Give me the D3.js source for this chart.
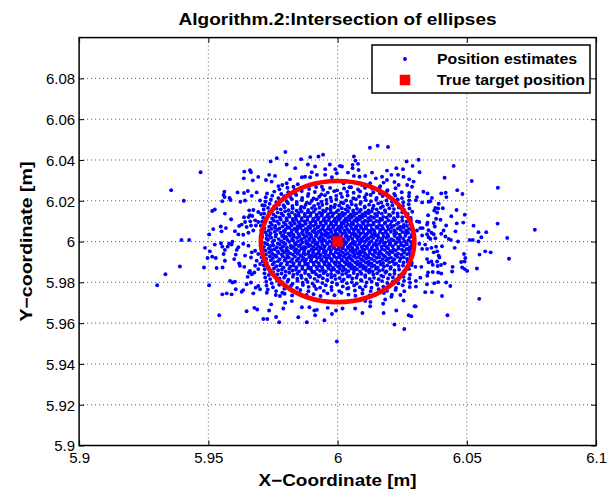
<!DOCTYPE html>
<html><head><meta charset="utf-8">
<script src="https://cdn.jsdelivr.net/npm/d3@7"></script>
<style>
body{margin:0;background:#fff}
svg{display:block}
text{font-family:"Liberation Sans",Arial,Helvetica,sans-serif;fill:#000}
</style>
</head><body>
<svg id="chart" width="610" height="493"></svg>
<script>
// ---------------- data ----------------
const chartTitle = "Algorithm.2:Intersection of ellipses";
const xAxisLabel = "X\u2212Coordinate [m]";
const yAxisLabel = "Y\u2212coordinate [m]";
const xLimits = [5.9, 6.1];
const yLimits = [5.9, 6.1];
const xTickValues = [5.9, 5.95, 6, 6.05, 6.1];
const yTickValues = [5.9, 5.92, 5.94, 5.96, 5.98, 6, 6.02, 6.04, 6.06, 6.08];
const legendLabels = ["Position estimates", "True target position"];
const trueTargetPosition = [6, 6];
const ellipseRadii = [0.0297, 0.0297];

// position-estimate errors (x, y) in millimetres relative to the true target position
// sparse estimates outside the dense core
const outerErrorsMm = [
[-53,34],[-64.4,25.2],[-59.5,20],[-36.1,34.3],[-33.9,35],[-33.5,34],[-36.3,31],[-32.8,30],[-30.7,31.7],[-43.8,24.4],[-44.1,22.8],[-43.7,21.8],[-38.7,24.1],[-36.2,23.8],[-34.7,24.8],[-33.2,22.4],[-31.3,24.1],[-41.8,21.4],[-41.4,20.4],[-44.6,19.8],[-37.6,19.5],[-35.8,20.1],[-30,20.1],[-29.1,17.8],[-48.5,15],[-47.5,15.7],[-43.6,13.7],[-34.2,15.3],[-32.6,15.5],[-30.7,14.5],[-29.6,13.5],[-36.2,11.9],[-34.5,12],[-33.9,12.9],[-33,12.5],[-41.2,10.9],[-35.8,9.6],[-33.8,9.9],[-31.9,10.4],[-30.7,9.6],[-37.1,8.3],[-38.1,7.6],[-35.2,7.1],[-33.5,7.9],[-31.6,7.9],[-45.2,7.4],[-43.2,6.6],[-48.1,6.1],[-44.9,5],[-39.7,5.1],[-38.4,3.5],[-36.5,3.3],[-34.5,4.3],[-32.6,5.4],[-49.7,3.5],[-60.4,0.8],[-57.4,0.8],
[-51.3,-3.1],[-49.4,-4.8],[-50.3,-8.1],[-48.5,-7.4],[-47.1,-8.1],[-47.5,-1.5],[-45.1,-0.8],[-44.6,-2.5],[-43.6,-4.1],[-44.1,-6.1],[-42,-1.1],[-41,-1.5],[-42.5,-2.5],[-43.6,-9.4],[-39.4,-6.4],[-40,-8.6],[-38.1,-10.7],[-37.8,-11.9],[-36.1,-12.4],[-46.8,-13],[-44.5,-12.7],[-51.7,-12.7],[-61,-12.2],[-66.6,-16],[-69.8,-21.4],[-49.7,-21.4],[-41.6,-19.3],[-40.7,-20.1],[-39.7,-19.7],[-39.4,-23.4],[-41,-25.9],[-42.9,-25.4],[-44.6,-25.9],[-37.1,-24.6],[-36.5,-23.8],[-35.2,-20.9],[-33.5,-20.1],[-34.8,-17.3],[-33.2,-16],[-33.9,-14.4],[-32.2,-15.2],[-32.6,-25.4],[-30.7,-21.8],[-31.7,-22.6],[-30,-23.4],[-35.2,-34.2],[-32.2,-32.5],[-31.1,-33.3],[-45.8,-36.1],[-28.7,-38],[-38.4,-2.8],[-36.5,-1.1],[-34.5,-2],[-33.2,-5.3],[-31.9,-4.5],[-30.7,-6.1],[-35.8,-6.9],[-33.5,-7.8],[-39,-4.1],[-40.7,-0.1],[-31.3,-9.4],[-30,-11],[-31.9,-11.9],[-30.7,-13.5],[-34.3,-15.2],
[44.9,37.1],[31.7,34],[41.4,31.3],[51.9,29.7],[62,26.4],[46.3,25.2],[40.1,23.6],[41.8,23.9],[42.1,21.8],[48.3,23.3],[33.2,24.4],[34.8,23.6],[36.5,21.4],[35.9,19.8],[35.2,19.5],[30.7,21.8],[30.3,20.3],[32.7,19.2],[39.1,18.5],[37.8,16.5],[38.9,16.2],[40.7,16.3],[37.4,15.2],[38.5,14.2],[46,15.5],[49.2,13.2],[35,12.9],[44,12.4],[38.1,11.2],[39.8,10.7],[30.7,9.9],[31.6,9.6],[34.8,9.3],[37.2,9.1],[34.6,8.3],[37.6,7.4],[42,7.9],[46.1,8.9],[48.6,9.3],[52.6,7.8],[61.9,8.8],[32,6.6],[32.9,6.6],[30.7,5.4],[35.2,5.6],[36.3,4.3],[37.2,3.6],[34.6,3.6],[32.7,3],[35.2,2.1],[35.9,1.3],[37.8,1.6],[40.1,3.8],[41,5.4],[41.7,2.5],[43,1.3],[43.8,0.8],[45.6,5],[54.5,4.6],[57.5,4.6],[55.6,2.1],[65.6,1.8],[76.3,5.8],[51.1,0.8],[52.3,0.8],
[54.5,0],[46.6,0],[54.9,-6.4],[57.1,-4.8],[59.2,-5.3],[66.3,-8.4],[45.3,-3.1],[40.4,-2.3],[38.1,-2.5],[37.2,-5.3],[38.5,-4.8],[39.1,-6.9],[39.4,-7.8],[36.3,-3.1],[34.6,-3.6],[32.7,-3.6],[33.9,-1.5],[31.6,-1.1],[48.9,-6.1],[49.4,-8.1],[47.8,-10],[49.1,-9.8],[34.6,-8.6],[35.2,-10.2],[36.3,-9.8],[36.8,-11.4],[38.5,-9.8],[38.7,-12],[40,-11.5],[41.4,-10.7],[44.5,-12.4],[44.3,-14.7],[48.2,-12.7],[49.2,-13.5],[50.1,-14.4],[53.9,-13.2],[32.4,-12.4],[30.1,-12.4],[35,-15.2],[36.8,-14.9],[38.9,-15.2],[40.1,-15.7],[34.7,-16.8],[32,-17.7],[30.3,-19.3],[30.3,-22.1],[34.6,-20.9],[37.4,-20.4],[38.9,-19.9],[42,-20.1],[43.6,-21.8],[33.9,-24.8],[36.5,-24.8],[40.4,-26.7],[54.8,-28.1],[30.2,-31.8],[42.5,-36.1],
[12.5,46],[15.5,47],[19.5,46.4],[-20.2,43.9],[-23.5,40.9],[-25.9,39.3],[-14.1,40.4],[-10.6,41.4],[-7.4,41.7],[-5.6,42.6],[6.3,41.7],[6.9,39.7],[26.7,39.3],[31.3,40.1],[-19.7,37.8],[-11.5,37.8],[-3,37.8],[0.9,37.1],[1.7,36.8],[5.8,37.6],[7.9,38.1],[-4.8,35.5],[-0.9,35.5],[8.1,35.1],[5.8,36],[-16.4,36],[-8.7,36.8],[-10,34],[-8,32.7],[-12.6,31.8],[-13.8,31.5],[-10.6,31.5],[-26.5,32.7],[-24.2,32.2],[-27.7,30.2],[-25.5,29.4],[-22.9,27.2],[-21.4,27.7],[-19.7,28.6],[-18.4,30.5],[-4.8,32.7],[-2.2,31.5],[-0.3,33.5],[4,33.8],[6.3,32.2],[8.5,31.8],[10.7,32.2],[13.3,33.8],[19.1,34.8],[22.7,36],[25.3,35.5],[29,37.1],[14.8,31],[17.8,28.9],[19.1,30.2],[20.8,32.7],[23.4,32.7],[25.5,31.8],[27.7,30.5],[29.4,29.4],[22,29.2],[23.6,27.7],[26.9,27.7],[28.8,26.9],[17.2,31.8],[-7.4,28.6],[-6.1,26.9],[-4.2,29.4],[2.3,28.6],[4.6,26.6],[6.8,28.9],[9.4,27.7],[12.6,28.6],[16.5,27.2],[-17.1,26.9],[-15.4,28.1],
[-0.3,-49],[22,-40.7],[25.8,-42.9],[-5.1,-38.6],[-11.9,-39.6],[-22.6,-39.6],[-23.8,-37],[-27.2,-38],[-15.2,-37.1],[-8.7,-36.1],[-9,-33.8],[-2.2,-35.5],[-0.6,-33.8],[17.8,-35],[22.7,-33.8],[27.5,-36.1],[28.5,-36.6],[29.8,-31.7],[25.5,-28.9],[24.3,-26.2],[-26.5,-33.8],[-25.7,-30.8],[-21,-32.8],[-20.3,-30],[-17.7,-29.2],[-21.4,-25.1],[-22.3,-26.7],[-23.9,-26.2],[-27.4,-25.1],[-13.8,-32.2],[-10.9,-32.2],[-8,-33.5],[-3.8,-32.5],[1.9,-32.8],[6.8,-32.8],[9.6,-35],[12.6,-31.7],[12.7,-29.6],[17.6,-30.5],[18.4,-28.4],[20.8,-27.1],[10.7,-29.2]
];
// dense core of estimates around the true position
const coreErrorsMm = [
[-29.6,0.4],[-28.1,-0.7],[-26.9,0.9],[-25.2,-0.2],[-24.6,0.6],[-23.1,-0.9],[-21.8,0.2],[-20.9,-0.5],[-19.4,0.8],[-18.7,-0.1],[-17.2,0.5],[-16.5,-0.8],[-15.3,0.1],[-14.1,0.9],[-13.6,-0.4],[-12.2,0.3],[-11.5,-0.9],[-10.8,0.7],[-9.6,-0.3],[-8.9,0.5],[-7.7,-0.6],[-6.9,0.9],[-6.1,-0.2],[-4.8,0.4],[-4.0,-0.8],[-3.1,0.2],[-2.2,-0.5],[-1.4,0.8],[-0.5,-0.1],[0.9,0.6],[1.6,-0.7],[2.5,0.3],[3.4,-0.4],[4.2,0.9],[5.3,-0.9],[6.0,0.1],[6.8,-0.3],[7.9,0.7],[8.7,-0.6],[9.5,0.4],[10.6,-0.2],[11.2,0.8],[12.4,-0.5],[13.1,0.2],[14.5,-0.8],[15.2,0.6],[16.6,-0.1],[17.3,0.9],[18.5,-0.4],[19.8,0.3],[20.4,-0.7],[21.7,0.5],[22.9,-0.3],[23.8,0.8],[24.5,-0.6],[25.9,0.2],[26.6,-0.9],[27.4,0.6],[28.3,-0.2],[17.9,-0.8],[-5.4,0.7],
[-29.1,2.3],[-27.5,1.4],[-26.3,2.8],[-25.7,1.9],[-24.0,2.5],[-22.8,1.2],[-21.5,2.7],[-20.6,1.6],[-19.9,2.2],[-18.4,2.9],[-17.6,1.3],[-16.9,2.4],[-15.7,1.8],[-14.8,2.6],[-13.9,1.1],[-12.7,2.0],[-11.9,2.8],[-11.0,1.5],[-10.1,2.3],[-9.2,1.2],[-8.4,2.7],[-7.3,1.7],[-6.5,2.4],[-5.6,1.3],[-4.6,2.9],[-3.7,1.9],[-2.8,2.5],[-1.9,1.4],[-1.0,2.2],[-0.2,2.9],[0.6,1.6],[1.4,2.4],[2.3,1.2],[3.1,2.7],[3.9,1.8],[4.9,2.3],[5.7,1.4],[6.6,2.8],[7.5,1.9],[8.3,2.5],[9.2,1.1],[10.1,2.1],[11.0,2.8],[11.9,1.5],[12.9,2.4],[13.8,1.7],[14.7,2.9],[15.8,2.0],[16.9,1.3],[17.8,2.6],[18.9,1.8],[19.6,2.4],[20.8,1.2],[22.1,2.7],[23.2,1.6],[24.3,2.3],[25.4,1.4],[26.2,2.8],[27.8,1.9],[28.6,2.5],
[-29.8,-1.7],[-28.5,-2.6],[-27.2,-1.3],[-26.0,-2.2],[-24.9,-1.8],[-23.5,-2.8],[-22.3,-1.5],[-21.1,-2.4],[-20.2,-1.2],[-19.6,-2.9],[-18.1,-1.9],[-17.0,-2.5],[-16.1,-1.4],[-15.0,-2.2],[-14.3,-1.6],[-13.0,-2.7],[-12.1,-1.1],[-11.2,-2.3],[-10.5,-1.8],[-9.4,-2.6],[-8.5,-1.3],[-7.6,-2.1],[-6.8,-2.9],[-5.9,-1.5],[-5.0,-2.4],[-3.9,-1.2],[-3.0,-2.7],[-2.0,-1.8],[-1.2,-2.3],[-0.3,-1.4],[0.5,-2.8],[1.3,-1.6],[2.2,-2.2],[3.0,-1.1],[4.0,-2.5],[4.8,-1.7],[5.6,-2.9],[6.5,-1.4],[7.4,-2.1],[8.4,-1.2],[9.3,-2.6],[10.2,-1.9],[11.3,-2.4],[12.1,-1.3],[13.3,-2.8],[14.0,-1.6],[15.1,-2.2],[16.0,-1.1],[17.0,-2.5],[18.2,-1.8],[19.0,-2.7],[20.1,-1.5],[21.3,-2.3],[22.4,-1.2],[23.5,-2.6],[24.6,-1.7],[25.6,-2.2],[26.8,-1.4],[27.9,-2.8],[28.7,-1.9],
[-29.3,3.8],[-28.0,4.6],[-27.4,3.2],[-25.9,4.1],[-24.3,4.8],[-23.8,3.5],[-22.1,4.3],[-21.0,3.1],[-20.4,4.7],[-19.0,3.9],[-17.9,4.4],[-17.1,3.3],[-15.9,4.9],[-15.2,3.7],[-13.8,4.2],[-13.3,3.4],[-12.0,4.6],[-10.9,3.9],[-10.3,3.2],[-9.0,4.5],[-8.1,3.6],[-7.5,4.8],[-6.3,4.0],[-5.5,3.3],[-4.4,4.4],[-3.6,3.8],[-2.4,4.7],[-1.7,3.2],[-0.7,4.1],[0.1,3.5],[1.0,4.9],[1.8,3.9],[2.9,4.3],[3.5,3.1],[4.6,4.6],[5.5,3.7],[6.3,4.2],[7.1,3.4],[8.0,4.8],[8.9,3.8],[9.9,4.4],[10.8,3.3],[11.6,4.0],[12.7,4.7],[13.5,3.5],[14.4,4.3],[15.6,3.2],[16.4,4.6],[17.5,3.9],[18.7,4.4],[19.4,3.3],[20.6,4.8],[21.9,3.7],[22.7,4.2],[24.0,3.4],[25.2,4.6],[26.4,3.8],[27.3,4.3],[28.8,3.6],
[-29.0,-3.6],[-27.9,-4.5],[-26.6,-3.3],[-25.5,-4.2],[-24.4,-3.8],[-23.2,-4.8],[-22.0,-3.4],[-21.4,-4.4],[-19.8,-3.9],[-19.2,-4.7],[-18.0,-3.2],[-16.8,-4.1],[-16.0,-3.7],[-14.9,-4.6],[-14.0,-3.4],[-12.9,-4.3],[-12.3,-3.1],[-11.1,-4.8],[-10.0,-3.8],[-9.3,-4.2],[-8.2,-3.5],[-7.2,-4.6],[-6.4,-3.3],[-5.3,-4.0],[-4.5,-4.8],[-3.5,-3.6],[-2.6,-4.4],[-1.5,-3.2],[-0.6,-4.1],[0.4,-3.7],[1.2,-4.7],[2.0,-3.4],[3.2,-4.2],[4.1,-3.1],[4.9,-4.5],[5.8,-3.9],[6.9,-4.3],[7.7,-3.3],[8.6,-4.8],[9.6,-3.6],[10.4,-4.1],[11.4,-3.2],[12.3,-4.6],[13.0,-3.8],[14.2,-4.4],[15.3,-3.5],[16.3,-4.9],[17.2,-3.7],[18.3,-4.2],[19.5,-3.3],[20.3,-4.6],[21.6,-3.9],[22.5,-4.4],[23.6,-3.4],[24.9,-4.0],[25.8,-4.7],[26.7,-3.6],[27.7,-4.2],[28.5,-3.3],
[-29.5,5.6],[-28.3,6.5],[-26.7,5.3],[-25.6,6.2],[-24.2,6.8],[-23.3,5.7],[-22.5,6.4],[-20.8,5.2],[-20.0,6.1],[-18.6,6.7],[-17.7,5.5],[-16.7,6.3],[-15.6,5.9],[-14.4,6.8],[-13.5,5.4],[-12.4,6.2],[-11.6,5.7],[-10.6,6.6],[-9.7,5.1],[-8.8,6.0],[-7.8,6.9],[-6.6,5.6],[-5.7,6.4],[-4.9,5.3],[-3.8,6.2],[-2.9,5.8],[-1.8,6.7],[-0.9,5.4],[0.0,6.3],[0.8,5.9],[1.7,6.8],[2.7,5.5],[3.7,6.1],[4.4,5.2],[5.4,6.6],[6.2,5.7],[7.2,6.3],[8.2,5.4],[9.1,6.8],[10.0,5.9],[11.1,6.4],[12.0,5.3],[13.2,6.2],[14.1,5.6],[15.4,6.7],[16.5,5.8],[17.6,6.3],[18.6,5.2],[19.7,6.1],[20.9,6.8],[22.0,5.5],[23.3,6.4],[24.4,5.7],[25.5,6.9],[26.5,5.4],[27.6,6.2],[28.7,5.8],
[-29.2,-5.5],[-27.7,-6.4],[-26.4,-5.2],[-25.1,-6.1],[-24.0,-6.8],[-22.9,-5.6],[-21.6,-6.3],[-20.5,-5.3],[-19.5,-6.6],[-18.3,-5.8],[-17.3,-6.4],[-16.4,-5.1],[-15.4,-6.0],[-14.2,-6.7],[-13.1,-5.5],[-12.6,-6.3],[-11.4,-5.9],[-10.2,-6.8],[-9.5,-5.4],[-8.3,-6.2],[-7.4,-5.7],[-6.5,-6.6],[-5.4,-5.3],[-4.6,-6.1],[-3.4,-6.9],[-2.7,-5.6],[-1.6,-6.4],[-0.7,-5.2],[0.3,-6.0],[1.1,-6.7],[2.1,-5.5],[3.0,-6.3],[3.9,-5.8],[4.8,-6.8],[5.9,-5.4],[6.7,-6.2],[7.8,-5.7],[8.8,-6.5],[9.7,-5.1],[10.7,-6.0],[11.7,-6.8],[12.5,-5.6],[13.6,-6.4],[14.6,-5.3],[15.7,-6.1],[16.8,-5.8],[17.7,-6.7],[19.1,-5.5],[20.0,-6.3],[21.2,-5.2],[22.3,-6.6],[23.4,-5.9],[24.7,-6.4],[25.7,-5.4],[26.9,-6.2],[27.8,-5.7],[28.8,-6.8],
[-29.7,7.8],[-28.2,8.6],[-26.5,7.3],[-25.4,8.2],[-24.1,7.6],[-22.7,8.7],[-21.3,7.4],[-20.1,8.3],[-19.3,7.1],[-17.8,8.0],[-16.6,8.8],[-15.5,7.5],[-14.5,8.4],[-13.4,7.9],[-12.3,8.7],[-11.3,7.2],[-10.4,8.1],[-9.3,7.7],[-8.4,8.6],[-7.4,7.3],[-6.4,8.2],[-5.4,7.8],[-4.5,8.8],[-3.5,7.4],[-2.6,8.3],[-1.5,7.6],[-0.6,8.5],[0.4,7.2],[1.3,8.0],[2.3,8.8],[3.2,7.5],[4.1,8.3],[5.1,7.9],[6.1,8.6],[7.0,7.3],[7.9,8.1],[9.0,7.7],[10.0,8.7],[10.9,7.4],[11.8,8.2],[12.9,7.9],[13.9,8.5],[15.0,7.2],[16.1,8.1],[17.2,7.6],[18.3,8.8],[19.3,7.5],[20.5,8.3],[21.8,7.8],[23.0,8.6],[24.2,7.3],[25.6,8.1],[26.8,7.7],[28.1,8.4],
[-29.4,-7.7],[-27.6,-8.5],[-26.2,-7.2],[-25.0,-8.1],[-23.6,-7.5],[-22.4,-8.7],[-21.2,-7.3],[-20.0,-8.2],[-18.9,-7.8],[-17.5,-8.6],[-16.5,-7.4],[-15.2,-8.3],[-14.1,-7.1],[-13.2,-8.0],[-12.2,-8.8],[-11.0,-7.6],[-10.1,-8.4],[-9.1,-7.2],[-8.0,-8.1],[-7.1,-7.7],[-6.2,-8.7],[-5.2,-7.4],[-4.3,-8.2],[-3.2,-7.9],[-2.3,-8.6],[-1.3,-7.3],[-0.4,-8.1],[0.6,-7.6],[1.5,-8.8],[2.4,-7.4],[3.4,-8.3],[4.3,-7.8],[5.2,-8.5],[6.3,-7.2],[7.1,-8.0],[8.1,-7.6],[9.1,-8.7],[10.1,-7.3],[11.1,-8.2],[12.0,-7.8],[13.1,-8.5],[14.1,-7.1],[15.2,-8.0],[16.2,-7.6],[17.4,-8.6],[18.4,-7.4],[19.6,-8.3],[20.7,-7.9],[21.9,-8.7],[23.1,-7.5],[24.4,-8.2],[25.6,-7.7],[26.9,-8.5],[28.2,-7.3],
[-29.2,9.7],[-27.6,10.6],[-26.0,9.3],[-24.7,10.2],[-23.4,9.8],[-22.0,10.8],[-20.8,9.4],[-19.6,10.3],[-18.4,9.1],[-17.2,10.0],[-16.0,10.7],[-15.0,9.5],[-13.9,10.4],[-12.8,9.8],[-11.7,10.6],[-10.6,9.2],[-9.6,10.1],[-8.6,9.7],[-7.6,10.8],[-6.6,9.4],[-5.5,10.3],[-4.6,9.8],[-3.5,10.5],[-2.5,9.2],[-1.5,10.1],[-0.5,9.6],[0.5,10.7],[1.5,9.3],[2.5,10.2],[3.5,9.8],[4.5,10.6],[5.5,9.4],[6.5,10.3],[7.5,9.9],[8.6,10.8],[9.6,9.5],[10.6,10.2],[11.7,9.7],[12.8,10.5],[13.9,9.2],[15.0,10.1],[16.1,9.8],[17.2,10.7],[18.4,9.4],[19.6,10.3],[20.9,9.9],[22.2,10.6],[23.6,9.3],[25.0,10.2],[26.6,9.7],[28.3,10.5],
[-29.0,-9.6],[-27.4,-10.5],[-25.8,-9.2],[-24.5,-10.1],[-23.1,-9.7],[-21.8,-10.7],[-20.5,-9.3],[-19.4,-10.2],[-18.1,-9.8],[-17.0,-10.6],[-15.8,-9.4],[-14.7,-10.3],[-13.7,-9.1],[-12.6,-10.0],[-11.5,-10.8],[-10.4,-9.5],[-9.4,-10.4],[-8.3,-9.8],[-7.3,-10.6],[-6.3,-9.2],[-5.3,-10.1],[-4.3,-9.7],[-3.3,-10.8],[-2.3,-9.4],[-1.3,-10.3],[-0.3,-9.9],[0.7,-10.5],[1.7,-9.2],[2.7,-10.1],[3.7,-9.6],[4.7,-10.7],[5.7,-9.3],[6.8,-10.2],[7.8,-9.8],[8.8,-10.6],[9.9,-9.4],[10.9,-10.3],[12.0,-9.9],[13.1,-10.7],[14.2,-9.3],[15.3,-10.2],[16.4,-9.7],[17.6,-10.5],[18.8,-9.2],[20.0,-10.1],[21.3,-9.8],[22.6,-10.7],[24.0,-9.5],[25.5,-10.3],[27.1,-9.9],[28.7,-10.4],
[-28.8,11.7],[-27.0,12.5],[-25.3,11.3],[-23.9,12.2],[-22.4,11.8],[-21.1,12.8],[-19.8,11.4],[-18.6,12.3],[-17.4,11.1],[-16.2,12.0],[-15.0,12.7],[-13.9,11.5],[-12.7,12.4],[-11.6,11.9],[-10.5,12.6],[-9.4,11.2],[-8.3,12.1],[-7.3,11.7],[-6.2,12.8],[-5.2,11.4],[-4.1,12.3],[-3.1,11.8],[-2.0,12.5],[-1.0,11.2],[0.0,12.1],[1.1,11.6],[2.1,12.7],[3.2,11.3],[4.2,12.2],[5.3,11.8],[6.3,12.6],[7.4,11.4],[8.5,12.3],[9.6,11.9],[10.7,12.7],[11.8,11.5],[12.9,12.2],[14.1,11.7],[15.3,12.5],[16.5,11.2],[17.7,12.1],[19.0,11.8],[20.4,12.6],[21.8,11.4],[23.3,12.3],[25.0,11.9],[26.6,12.4],[28.3,11.6],
[-28.6,-11.6],[-26.8,-12.4],[-25.1,-11.2],[-23.7,-12.1],[-22.2,-11.7],[-20.9,-12.7],[-19.6,-11.3],[-18.3,-12.2],[-17.1,-11.8],[-15.9,-12.6],[-14.8,-11.4],[-13.6,-12.3],[-12.5,-11.1],[-11.4,-12.0],[-10.3,-12.8],[-9.2,-11.5],[-8.1,-12.4],[-7.1,-11.9],[-6.0,-12.6],[-5.0,-11.2],[-3.9,-12.1],[-2.9,-11.7],[-1.8,-12.8],[-0.8,-11.4],[0.2,-12.3],[1.3,-11.8],[2.3,-12.5],[3.4,-11.2],[4.4,-12.1],[5.5,-11.6],[6.6,-12.7],[7.6,-11.3],[8.7,-12.2],[9.8,-11.8],[10.9,-12.6],[12.0,-11.4],[13.2,-12.3],[14.3,-11.9],[15.5,-12.7],[16.7,-11.3],[17.9,-12.2],[19.2,-11.7],[20.6,-12.5],[22.0,-11.1],[23.6,-12.0],[25.3,-11.8],[27.0,-12.4],[28.6,-11.5],
[-28.4,13.7],[-26.5,14.5],[-24.8,13.3],[-23.2,14.2],[-21.7,13.8],[-20.3,14.8],[-18.9,13.4],[-17.6,14.3],[-16.4,13.1],[-15.1,14.0],[-13.9,14.7],[-12.7,13.5],[-11.5,14.4],[-10.4,13.9],[-9.2,14.6],[-8.1,13.2],[-7.0,14.1],[-5.9,13.7],[-4.8,14.8],[-3.7,13.4],[-2.6,14.3],[-1.5,13.8],[-0.4,14.5],[0.7,13.2],[1.8,14.1],[2.9,13.6],[4.0,14.7],[5.1,13.3],[6.2,14.2],[7.3,13.8],[8.4,14.6],[9.6,13.4],[10.8,14.3],[12.0,13.9],[13.2,14.7],[14.5,13.5],[15.8,14.2],[17.1,13.7],[18.5,14.5],[19.9,13.2],[21.5,14.1],[23.2,13.8],[25.0,14.4],[27.1,13.5],[28.9,14.6],
[-28.2,-13.6],[-26.3,-14.4],[-24.6,-13.2],[-23.0,-14.1],[-21.5,-13.7],[-20.1,-14.7],[-18.7,-13.3],[-17.4,-14.2],[-16.1,-13.8],[-14.9,-14.6],[-13.7,-13.4],[-12.5,-14.3],[-11.3,-13.1],[-10.2,-14.0],[-9.0,-14.8],[-7.9,-13.5],[-6.8,-14.4],[-5.7,-13.9],[-4.6,-14.6],[-3.5,-13.2],[-2.4,-14.1],[-1.3,-13.7],[-0.2,-14.8],[0.9,-13.4],[2.0,-14.3],[3.1,-13.8],[4.2,-14.5],[5.3,-13.2],[6.4,-14.1],[7.5,-13.6],[8.7,-14.7],[9.9,-13.3],[11.1,-14.2],[12.3,-13.8],[13.5,-14.6],[14.8,-13.4],[16.1,-14.3],[17.5,-13.9],[18.9,-14.7],[20.4,-13.3],[22.0,-14.2],[23.8,-13.7],[25.7,-14.5],[27.6,-13.4],
[-28.6,15.7],[-26.9,16.5],[-25.2,15.3],[-23.6,16.2],[-22.0,15.8],[-20.5,16.8],[-19.0,15.4],[-17.4,16.3],[-15.9,15.1],[-14.4,16.0],[-12.9,16.7],[-11.4,15.5],[-9.9,16.4],[-8.5,15.9],[-7.0,16.6],[-5.6,15.2],[-4.1,16.1],[-2.7,15.7],[-1.3,16.8],[0.2,15.4],[1.6,16.3],[3.1,15.8],[4.5,16.5],[6.0,15.2],[7.5,16.1],[9.0,15.6],[10.5,16.7],[12.0,15.3],[13.6,16.2],[15.1,15.8],[16.7,16.6],[18.3,15.4],[20.0,16.3],[21.8,15.9],[23.7,16.7],[25.7,15.5],[27.8,16.2],
[-28.3,-15.6],[-26.6,-16.4],[-24.9,-15.2],[-23.3,-16.1],[-21.7,-15.7],[-20.2,-16.7],[-18.7,-15.3],[-17.1,-16.2],[-15.6,-15.8],[-14.1,-16.6],[-12.6,-15.4],[-11.2,-16.3],[-9.7,-15.1],[-8.3,-16.0],[-6.8,-16.8],[-5.4,-15.5],[-3.9,-16.4],[-2.5,-15.9],[-1.1,-16.6],[0.4,-15.2],[1.8,-16.1],[3.3,-15.7],[4.7,-16.8],[6.2,-15.4],[7.7,-16.3],[9.2,-15.8],[10.7,-16.5],[12.2,-15.2],[13.8,-16.1],[15.3,-15.6],[16.9,-16.7],[18.5,-15.3],[20.2,-16.2],[22.0,-15.8],[23.9,-16.6],[25.9,-15.4],[28.0,-16.3],
[-28.2,17.7],[-26.3,18.5],[-24.5,17.3],[-22.7,18.2],[-20.9,17.8],[-19.2,18.8],[-17.5,17.4],[-15.8,18.3],[-14.1,17.1],[-12.4,18.0],[-10.8,18.7],[-9.1,17.5],[-7.5,18.4],[-5.9,17.9],[-4.2,18.6],[-2.6,17.2],[-1.0,18.1],[0.6,17.7],[2.2,18.8],[3.8,17.4],[5.5,18.3],[7.1,17.8],[8.8,18.5],[10.5,17.2],[12.2,18.1],[13.9,17.6],[15.7,18.7],[17.5,17.3],[19.3,18.2],[21.2,17.8],[23.2,18.6],[25.3,17.4],[27.5,18.3],
[-28.0,-17.6],[-26.1,-18.4],[-24.3,-17.2],[-22.5,-18.1],[-20.7,-17.7],[-19.0,-18.7],[-17.3,-17.3],[-15.6,-18.2],[-13.9,-17.8],[-12.2,-18.6],[-10.6,-17.4],[-8.9,-18.3],[-7.3,-17.1],[-5.7,-18.0],[-4.0,-18.8],[-2.4,-17.5],[-0.8,-18.4],[0.8,-17.9],[2.4,-18.6],[4.0,-17.2],[5.7,-18.1],[7.3,-17.7],[9.0,-18.8],[10.7,-17.4],[12.4,-18.3],[14.1,-17.8],[15.9,-18.5],[17.7,-17.2],[19.5,-18.1],[21.4,-17.6],[23.4,-18.7],[25.5,-17.3],[27.7,-18.2],
[-27.9,19.6],[-25.8,20.5],[-23.7,19.3],[-21.7,20.2],[-19.7,19.8],[-17.7,20.8],[-15.8,19.4],[-13.8,20.3],[-11.9,19.1],[-10.0,20.0],[-8.1,20.7],[-6.2,19.5],[-4.3,20.4],[-2.4,19.9],[-0.5,20.6],[1.4,19.2],[3.3,20.1],[5.2,19.7],[7.1,20.8],[9.0,19.4],[10.9,20.3],[12.9,19.8],[14.9,20.5],[16.9,19.2],[18.9,20.1],[21.0,19.6],[23.2,20.7],[25.4,19.3],[27.7,20.2],
[-27.6,-19.7],[-25.5,-20.4],[-23.4,-19.2],[-21.4,-20.1],[-19.4,-19.7],[-17.4,-20.7],[-15.5,-19.3],[-13.5,-20.2],[-11.6,-19.8],[-9.7,-20.6],[-7.8,-19.4],[-5.9,-20.3],[-4.0,-19.1],[-2.1,-20.0],[-0.2,-20.8],[1.7,-19.5],[3.6,-20.4],[5.5,-19.9],[7.4,-20.6],[9.3,-19.2],[11.2,-20.1],[13.2,-19.7],[15.2,-20.8],[17.2,-19.4],[19.2,-20.3],[21.3,-19.8],[23.5,-20.5],[25.7,-19.3],[28.0,-20.2],
[-27.8,21.7],[-25.3,22.5],[-22.9,21.3],[-20.6,22.2],[-18.3,21.8],[-16.0,22.8],[-13.7,21.4],[-11.5,22.3],[-9.3,21.1],[-7.1,22.0],[-4.9,22.7],[-2.7,21.5],[-0.5,22.4],[1.7,21.9],[3.9,22.6],[6.1,21.2],[8.3,22.1],[10.5,21.7],[12.8,22.8],[15.1,21.4],[17.4,22.3],[19.8,21.8],[22.3,22.5],[24.9,21.3],[27.6,22.2],
[-27.5,-21.6],[-25.0,-22.4],[-22.6,-21.2],[-20.3,-22.1],[-18.0,-21.7],[-15.7,-22.7],[-13.4,-21.3],[-11.2,-22.2],[-9.0,-21.8],[-6.8,-22.6],[-4.6,-21.4],[-2.4,-22.3],[-0.2,-21.1],[2.0,-22.0],[4.2,-22.8],[6.4,-21.5],[8.6,-22.4],[10.8,-21.9],[13.1,-22.6],[15.4,-21.2],[17.7,-22.1],[20.1,-21.7],[22.6,-22.8],[25.2,-21.4],[27.9,-22.3],
[-27.3,23.6],[-24.5,24.5],[-21.8,23.3],[-19.1,24.2],[-16.5,23.8],[-13.9,24.8],[-11.3,23.4],[-8.8,24.3],[-6.3,23.1],[-3.8,24.0],[-1.3,24.7],[1.2,23.5],[3.7,24.4],[6.2,23.9],[8.7,24.6],[11.2,23.2],[13.8,24.1],[16.4,23.7],[19.1,24.8],[21.9,23.4],[24.8,24.2],[27.7,23.8],
[-27.0,-23.5],[-23.8,-24.3],[-20.6,-23.2],[-17.5,-24.1],[-14.4,-23.7],[-11.3,-24.4],[-8.3,-23.3],[-5.3,-24.2],[-2.3,-23.8],[0.7,-24.4],[3.7,-23.1],[6.7,-24.0],[9.7,-23.6],[12.8,-24.3],[15.9,-23.4],[19.1,-24.2],[22.4,-23.7],[25.8,-24.4],
[-22.5,25.6],[-19.4,26.4],[-16.6,25.3],[-13.8,26.2],[-11.0,25.8],[-8.3,26.7],[-5.6,25.4],[-2.9,26.3],[-0.2,25.1],[2.5,26.0],[5.2,26.6],[7.9,25.5],[10.6,26.4],[13.4,25.9],[16.3,26.5],[19.3,25.2],[22.4,26.1],
[-20.5,-25.6],[-17.6,-26.4],[-14.8,-25.3],[-12.0,-26.2],[-9.3,-25.8],[-6.6,-26.7],[-3.9,-25.4],[-1.2,-26.3],[1.5,-25.1],[4.2,-26.0],[6.9,-26.6],[9.6,-25.5],[12.3,-26.4],[15.0,-25.9],[17.9,-25.2],[21.0,-26.1]
];

// ---------------- layout / style ----------------
const W = 610, H = 493;
const plot = {left: 79.1, right: 596.1, top: 37.6, bottom: 445.5};
const BLUE = "#0000ff", RED = "#ff0000";
const dotRadius = 1.95;

const svg = d3.select("#chart");
svg.append("rect").attr("width", W).attr("height", H).attr("fill", "#fff");

const x = d3.scaleLinear().domain(xLimits).range([plot.left, plot.right]);
const y = d3.scaleLinear().domain(yLimits).range([plot.bottom, plot.top]);
const fmt = d => String(+d.toFixed(3));

// grid (MATLAB ':' style)
const grid = svg.append("g").attr("stroke", "#222").attr("stroke-width", 1)
  .attr("stroke-dasharray", "1,3").attr("opacity", 0.75);
grid.selectAll("line.vx").data(xTickValues.filter(v => v > xLimits[0] && v < xLimits[1])).join("line")
  .attr("x1", d => x(d)).attr("x2", d => x(d)).attr("y1", plot.top).attr("y2", plot.bottom);
grid.selectAll("line.hy").data(yTickValues.filter(v => v > yLimits[0] && v < yLimits[1])).join("line")
  .attr("y1", d => y(d)).attr("y2", d => y(d)).attr("x1", plot.left).attr("x2", plot.right);

// estimates
const estimates = outerErrorsMm.concat(coreErrorsMm)
  .map(([ex, ey]) => [trueTargetPosition[0] + ex / 1000, trueTargetPosition[1] + ey / 1000]);
svg.append("g").attr("fill", BLUE).selectAll("circle").data(estimates).join("circle")
  .attr("cx", d => x(d[0])).attr("cy", d => y(d[1])).attr("r", dotRadius);

// ellipse
svg.append("ellipse")
  .attr("cx", x(trueTargetPosition[0])).attr("cy", y(trueTargetPosition[1]))
  .attr("rx", x(trueTargetPosition[0] + ellipseRadii[0]) - x(trueTargetPosition[0]))
  .attr("ry", y(trueTargetPosition[1]) - y(trueTargetPosition[1] + ellipseRadii[1]))
  .attr("fill", "none").attr("stroke", RED).attr("stroke-width", 4.6);

// true target
const sq = 10.5;
svg.append("rect").attr("x", x(trueTargetPosition[0]) - sq / 2).attr("y", y(trueTargetPosition[1]) - sq / 2)
  .attr("width", sq).attr("height", sq).attr("fill", RED);

// axes (inward ticks)
const tick = 5;
const axB = svg.append("g").attr("transform", `translate(0,${plot.bottom})`)
  .call(d3.axisBottom(x).tickValues(xTickValues).tickSize(-tick).tickSizeOuter(0).tickPadding(5).tickFormat(fmt));
const axT = svg.append("g").attr("transform", `translate(0,${plot.top})`)
  .call(d3.axisTop(x).tickValues(xTickValues).tickSize(-tick).tickSizeOuter(0).tickFormat(""));
const axL = svg.append("g").attr("transform", `translate(${plot.left},0)`)
  .call(d3.axisLeft(y).tickValues(yTickValues).tickSize(-tick).tickSizeOuter(0).tickPadding(4).tickFormat(fmt));
const axR = svg.append("g").attr("transform", `translate(${plot.right},0)`)
  .call(d3.axisRight(y).tickValues(yTickValues).tickSize(-tick).tickSizeOuter(0).tickFormat(""));
[axB, axT, axL, axR].forEach(a => {
  a.select(".domain").remove();
  a.selectAll("line").attr("stroke", "#000").attr("stroke-width", 1);
  a.selectAll("text").attr("font-size", 15).attr("font-family", '"Liberation Sans",Arial,sans-serif').attr("fill", "#000");
});
axL.selectAll("text").attr("dy", "0.36em");
axB.selectAll("text").attr("dy", "0.8em");

// frame
svg.append("rect").attr("x", plot.left).attr("y", plot.top)
  .attr("width", plot.right - plot.left).attr("height", plot.bottom - plot.top)
  .attr("fill", "none").attr("stroke", "#000").attr("stroke-width", 1.5);

// texts
function fitText(sel, width) {
  sel.attr("textLength", width).attr("lengthAdjust", "spacingAndGlyphs");
}
svg.append("text").attr("x", (plot.left + plot.right) / 2).attr("y", 25)
  .attr("text-anchor", "middle").attr("font-weight", "bold").attr("font-size", 16.5)
  .text(chartTitle).call(fitText, 318);
svg.append("text").attr("x", (plot.left + plot.right) / 2).attr("y", 486)
  .attr("text-anchor", "middle").attr("font-weight", "bold").attr("font-size", 16.5)
  .text(xAxisLabel).call(fitText, 158);
svg.append("text").attr("transform", `translate(32,${(plot.top + plot.bottom) / 2}) rotate(-90)`)
  .attr("text-anchor", "middle").attr("font-weight", "bold").attr("font-size", 16.5)
  .text(yAxisLabel).call(fitText, 160);

// legend
const lg = {x: 372, y: 45, w: 218, h: 48};
const leg = svg.append("g");
leg.append("rect").attr("x", lg.x).attr("y", lg.y).attr("width", lg.w).attr("height", lg.h)
  .attr("fill", "#fff").attr("stroke", "#000").attr("stroke-width", 1.5);
const rowY = [lg.y + 14, lg.y + 35];
leg.append("circle").attr("cx", lg.x + 33).attr("cy", rowY[0]).attr("r", dotRadius).attr("fill", BLUE);
leg.append("rect").attr("x", lg.x + 33 - sq / 2).attr("y", rowY[1] - sq / 2).attr("width", sq).attr("height", sq).attr("fill", RED);
leg.selectAll("text.l").data(legendLabels).join("text")
  .attr("x", lg.x + 65).attr("y", (d, i) => rowY[i] + 5)
  .attr("font-weight", "bold").attr("font-size", 14)
  .text(d => d)
  .each(function(d, i) { d3.select(this).call(fitText, i === 0 ? 140 : 148); });
</script>
</body></html>
